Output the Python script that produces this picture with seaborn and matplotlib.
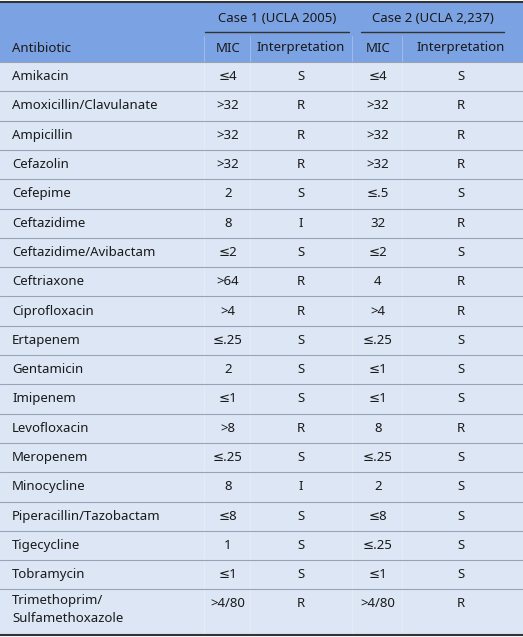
import matplotlib.pyplot as plt
import seaborn as sns
from matplotlib.patches import Rectangle

sns.set_theme(style="white")
plt.rcParams["font.family"] = ["Noto Sans", "DejaVu Sans"]

antibiotics = ["Amikacin", "Amoxicillin/Clavulanate", "Ampicillin", "Cefazolin", "Cefepime",
               "Ceftazidime", "Ceftazidime/Avibactam", "Ceftriaxone", "Ciprofloxacin",
               "Ertapenem", "Gentamicin", "Imipenem", "Levofloxacin", "Meropenem",
               "Minocycline", "Piperacillin/Tazobactam", "Tigecycline", "Tobramycin",
               "Trimethoprim/\nSulfamethoxazole"]
case1_mic = ["≤4", ">32", ">32", ">32", "2", "8", "≤2", ">64", ">4", "≤.25", "2", "≤1",
             ">8", "≤.25", "8", "≤8", "1", "≤1", ">4/80"]
case1_int = ["S", "R", "R", "R", "S", "I", "S", "R", "R", "S", "S", "S", "R", "S", "I",
             "S", "S", "S", "R"]
case2_mic = ["≤4", ">32", ">32", ">32", "≤.5", "32", "≤2", "4", ">4", "≤.25", "≤1", "≤1",
             "8", "≤.25", "2", "≤8", "≤.25", "≤1", ">4/80"]
case2_int = ["S", "R", "R", "R", "S", "R", "S", "R", "R", "S", "S", "S", "R", "S", "S",
             "S", "S", "S", "R"]
group_headers = ["Case 1 (UCLA 2005)", "Case 2 (UCLA 2,237)"]
col_headers = ["Antibiotic", "MIC", "Interpretation", "MIC", "Interpretation"]

W, H = 523, 637
fig = plt.figure(figsize=(W / 100, H / 100), dpi=100)
ax = fig.add_axes([0, 0, 1, 1])
ax.set_xlim(0, W)
ax.set_ylim(H, 0)
ax.axis("off")

header_blue = "#7ba2e3"
body_blue = "#dce6f5"
txt = "#1a1a1a"
col_edges = [0, 204, 250, 352, 402, 523]
centers = [12, 228, 301, 378, 461]

# header
ax.add_patch(Rectangle((0, 2), W, 60, color=header_blue, lw=0))
ax.add_patch(Rectangle((0, 62), W, H - 64, color=body_blue, lw=0))
ax.plot([0, W], [2, 2], color="#333333", lw=1.5)
ax.text(277, 18, group_headers[0], ha="center", va="center", fontsize=9.5, color=txt)
ax.text(433, 18, group_headers[1], ha="center", va="center", fontsize=9.5, color=txt)
ax.plot([205, 349], [32, 32], color="#333333", lw=1)
ax.plot([361, 504], [32, 32], color="#333333", lw=1)
for j, h in enumerate(col_headers):
    ax.text(centers[j], 48, h, ha="left" if j == 0 else "center", va="center",
            fontsize=9.5, color=txt)
for x in col_edges[1:-1]:
    ax.plot([x, x], [36, H - 2], color="white", lw=0.5, alpha=0.4)

row_h = 29.3
top = 62
for i, name in enumerate(antibiotics):
    y0 = top + i * row_h
    last = i == len(antibiotics) - 1
    if last:
        ax.text(centers[0], y0 + 5, name, ha="left", va="top", fontsize=9.5,
                color=txt, linespacing=1.45)
        yv = y0 + 14
    else:
        yv = y0 + row_h / 2
        ax.text(centers[0], yv, name, ha="left", va="center", fontsize=9.5, color=txt)
    for j, vals in enumerate([case1_mic, case1_int, case2_mic, case2_int]):
        ax.text(centers[j + 1], yv, vals[i], ha="center", va="center", fontsize=9.5,
                color=txt)
    if i > 0:
        ax.plot([0, W], [y0, y0], color="#9aa3b5", lw=0.8)
ax.plot([0, W], [top, top], color="#9aa3b5", lw=0.8)
ax.plot([0, W], [H - 2, H - 2], color="#333333", lw=1.5)

plt.savefig("out.png", dpi=100)
plt.close()
